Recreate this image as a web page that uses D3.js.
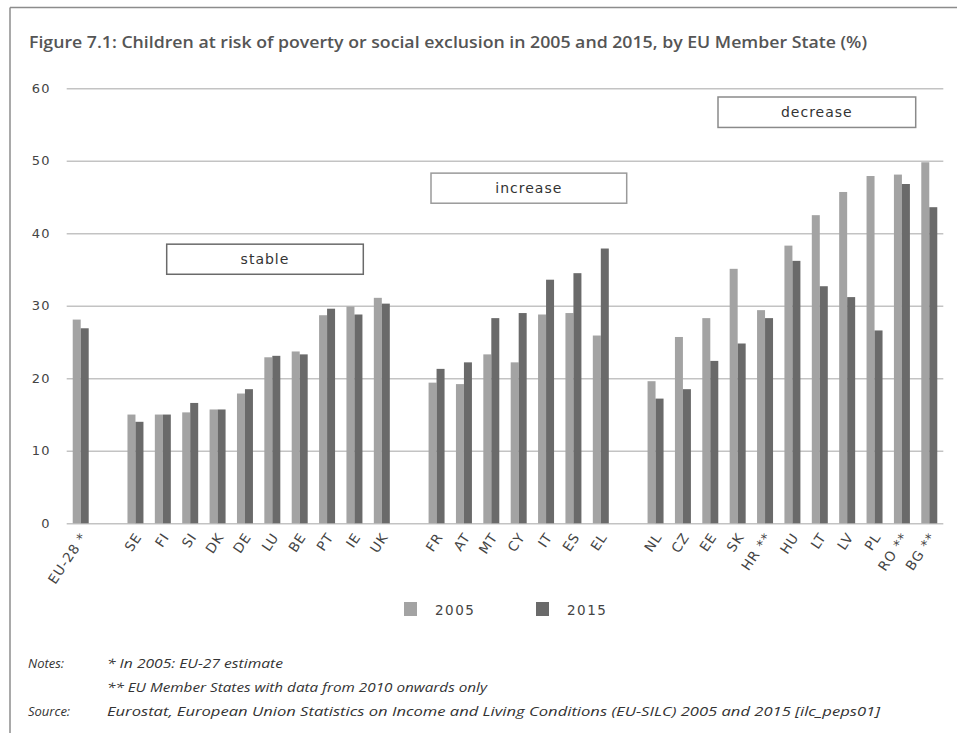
<!DOCTYPE html>
<html>
<head>
<meta charset="utf-8">
<script src="https://cdn.jsdelivr.net/npm/d3@7"></script>
<style>
  html, body { margin: 0; padding: 0; background: #fff; }
  svg { display: block; }
</style>
</head>
<body>
<svg id="chart" width="957" height="733"></svg>
<script>
// ---- data ----
const categories = ["EU-28 *", "", "SE", "FI", "SI", "DK", "DE", "LU", "BE", "PT", "IE", "UK", "",
  "FR", "AT", "MT", "CY", "IT", "ES", "EL", "",
  "NL", "CZ", "EE", "SK", "HR **", "HU", "LT", "LV", "PL", "RO **", "BG **"];
const values2005 = [28.1, null, 15.0, 15.0, 15.3, 15.7, 17.9, 22.9, 23.7, 28.7, 29.9, 31.1, null,
  19.4, 19.2, 23.3, 22.2, 28.8, 29.0, 25.9, null,
  19.6, 25.7, 28.3, 35.1, 29.4, 38.3, 42.5, 45.7, 47.9, 48.1, 49.8];
const values2015 = [26.9, null, 14.0, 15.0, 16.6, 15.7, 18.5, 23.1, 23.3, 29.6, 28.8, 30.3, null,
  21.3, 22.2, 28.3, 29.0, 33.6, 34.5, 37.9, null,
  17.2, 18.5, 22.4, 24.8, 28.3, 36.2, 32.7, 31.2, 26.6, 46.8, 43.6];
const seriesNames = ["2005", "2015"];
const yTicks = [0, 10, 20, 30, 40, 50, 60];
const groupLabels = ["stable", "increase", "decrease"];
const groupTop = [38.5, 48.3, 58.8];
const groupBottom = [34.35, 44.15, 54.6];
const titleText = "Figure 7.1:  Children at risk of poverty or social exclusion in 2005 and 2015, by EU Member State (%)";
const notes = ["* In 2005: EU-27 estimate", "** EU Member States with data from 2010 onwards only"];
const sourceText = "Eurostat, European Union Statistics on Income and Living Conditions (EU-SILC) 2005 and 2015 [ilc_peps01]";

// ---- layout ----
const colors = ["#a3a3a3", "#6a6a6a"];
const svg = d3.select("#chart");
const plot = { left: 66.7, right: 943.3, top: 88.3, bottom: 523.3 };
const boxX = [[166.7, 363.3], [431, 626.7], [718, 915.7]];
const boxStroke = ["#6a6a6a", "#9a9a9a", "#8a8a8a"];
const noteLengths = [176, 380];

// frame (top and left lines)
svg.append("line").attr("x1", 10).attr("x2", 957).attr("y1", 7.5).attr("y2", 7.5)
  .attr("stroke", "#8c8c8c").attr("stroke-width", 1.5);
svg.append("line").attr("x1", 10).attr("x2", 10).attr("y1", 7.5).attr("y2", 733)
  .attr("stroke", "#8c8c8c").attr("stroke-width", 1.5);

// title
svg.append("text").attr("x", 29).attr("y", 48)
  .attr("font-family", "'Open Sans', sans-serif").attr("font-weight", 600)
  .attr("font-size", 16).attr("fill", "#555")
  .attr("textLength", 838).attr("lengthAdjust", "spacingAndGlyphs")
  .text(titleText);

// scales
const idx = d3.range(categories.length);
const x = d3.scaleBand().domain(idx).range([plot.left, plot.right])
  .paddingInner(0.416).paddingOuter(0.22);
const xSub = d3.scaleBand().domain(seriesNames).range([0, x.bandwidth()]);
const y = d3.scaleLinear().domain([0, 60]).range([plot.bottom, plot.top]);

// gridlines + y labels
const yAxis = d3.axisLeft(y).tickValues(yTicks).tickSize(-(plot.right - plot.left)).tickPadding(16);
const gy = svg.append("g").attr("transform", `translate(${plot.left},0)`).call(yAxis);
gy.select(".domain").remove();
gy.selectAll(".tick line").attr("stroke", "#c3c3c3").attr("stroke-width", 1.5);
gy.selectAll(".tick text").attr("font-family", "'DejaVu Sans', sans-serif")
  .attr("font-size", 13).attr("fill", "#444").attr("letter-spacing", 1.2);

// bars
const rows = idx.filter(i => values2005[i] != null).map(i => ({ i, vals: [values2005[i], values2015[i]] }));
const g = svg.append("g").selectAll("g").data(rows).join("g")
  .attr("transform", d => `translate(${x(d.i)},0)`);
g.selectAll("rect").data(d => d.vals.map((v, k) => ({ v, k }))).join("rect")
  .attr("x", d => xSub(seriesNames[d.k]))
  .attr("width", xSub.bandwidth())
  .attr("y", d => y(d.v))
  .attr("height", d => y(0) - y(d.v))
  .attr("fill", d => colors[d.k]);

// x labels
svg.append("g").selectAll("text").data(idx.filter(i => categories[i] !== "")).join("text")
  .attr("transform", i => `translate(${x(i) + x.bandwidth() / 2 + 3},${plot.bottom + 11}) rotate(-56)`)
  .attr("text-anchor", "end")
  .attr("dy", "0.35em")
  .attr("font-family", "'DejaVu Sans', sans-serif").attr("font-size", 13.5)
  .attr("fill", "#444").attr("letter-spacing", 0.9)
  .text(i => categories[i]);

// group annotation boxes
groupLabels.forEach((lab, k) => {
  svg.append("rect").attr("x", boxX[k][0]).attr("y", y(groupTop[k]))
    .attr("width", boxX[k][1] - boxX[k][0]).attr("height", y(groupBottom[k]) - y(groupTop[k]))
    .attr("fill", "#fff").attr("stroke", boxStroke[k]).attr("stroke-width", 1.5);
  svg.append("text").attr("x", (boxX[k][0] + boxX[k][1]) / 2)
    .attr("y", (y(groupTop[k]) + y(groupBottom[k])) / 2).attr("dy", "0.35em")
    .attr("text-anchor", "middle")
    .attr("font-family", "'DejaVu Sans', sans-serif").attr("font-size", 14)
    .attr("fill", "#333").attr("letter-spacing", 1)
    .text(lab);
});

// legend
const legX = [404, 536];
seriesNames.forEach((s, k) => {
  svg.append("rect").attr("x", legX[k]).attr("y", 602).attr("width", 13).attr("height", 14)
    .attr("fill", colors[k]);
  svg.append("text").attr("x", legX[k] + 31).attr("y", 615)
    .attr("font-family", "'DejaVu Sans', sans-serif").attr("font-size", 13.5)
    .attr("fill", "#444").attr("letter-spacing", 1.5)
    .text(s);
});

// notes
const noteFont = "'Open Sans', sans-serif";
svg.append("text").attr("x", 28).attr("y", 668).attr("font-family", noteFont)
  .attr("font-style", "italic").attr("font-size", 13).attr("fill", "#333").text("Notes:");
notes.forEach((n, k) => {
  svg.append("text").attr("x", 107).attr("y", 668 + k * 24).attr("font-family", noteFont)
    .attr("font-style", "italic").attr("font-size", 13).attr("fill", "#333")
    .attr("textLength", noteLengths[k]).attr("lengthAdjust", "spacingAndGlyphs")
    .text(n);
});
svg.append("text").attr("x", 28).attr("y", 716).attr("font-family", noteFont)
  .attr("font-style", "italic").attr("font-size", 13).attr("fill", "#333").text("Source:");
svg.append("text").attr("x", 107).attr("y", 716).attr("font-family", noteFont)
  .attr("font-style", "italic").attr("font-size", 13).attr("fill", "#333")
  .attr("textLength", 773).attr("lengthAdjust", "spacingAndGlyphs")
  .text(sourceText);
</script>
</body>
</html>
